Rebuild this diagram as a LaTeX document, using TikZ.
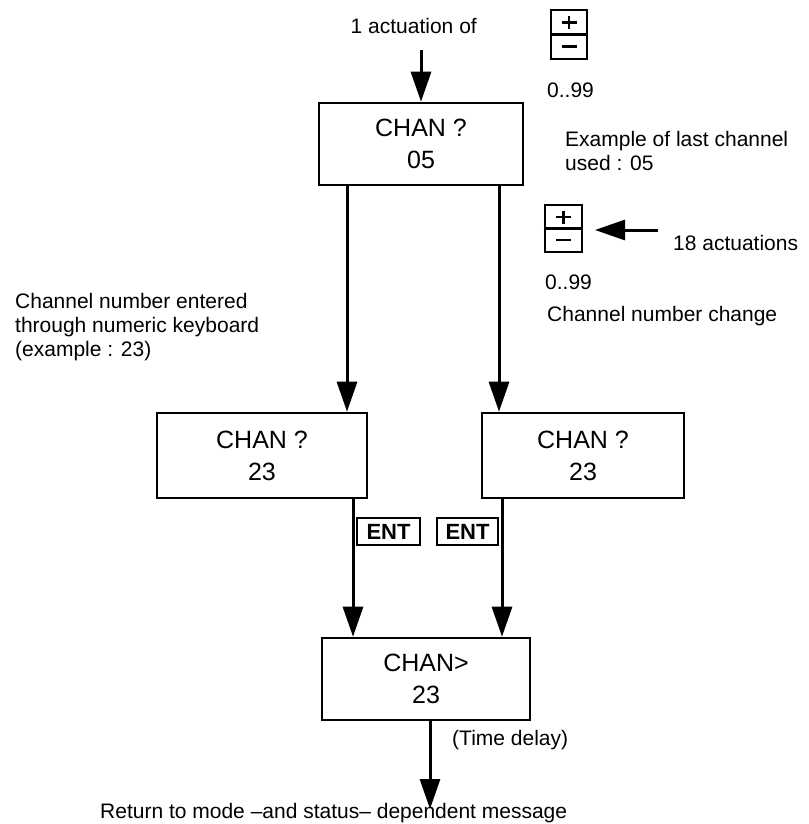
\documentclass[tikz,border=0pt]{standalone}
\usepackage{fontspec}
\setmainfont{Liberation Sans}
\usetikzlibrary{arrows.meta,calc}
\begin{document}
\begin{tikzpicture}[x=1pt,y=-1pt,
  box/.style={draw,line width=2.6pt,minimum height=85pt,inner sep=0pt,align=center,font=\fontsize{25}{32}\selectfont},
  key/.style={draw,line width=2.2pt,minimum height=27pt,inner sep=0pt,font=\fontsize{22}{22}\selectfont\bfseries},
  pm/.style={draw,line width=2.2pt,minimum width=36pt,minimum height=48pt,inner sep=0pt},
  arr/.style={line width=3pt,-{Triangle[width=20pt,length=30pt]}},
  lbl/.style={font=\fontsize{21}{24}\selectfont,inner sep=0pt,align=left},
  sym/.style={line width=2.6pt}
]
\useasboundingbox (0,0) rectangle (808,824);

% boxes
\node[box,minimum width=204pt,minimum height=82pt] (top) at (421,144) {CHAN ?\\05};
\node[box,minimum width=210pt] (ml) at (262,455.5) {CHAN ?\\23};
\node[box,minimum width=202pt] (mr) at (583,455.5) {CHAN ?\\23};
\node[box,minimum width=208pt,minimum height=82pt] (bot) at (426,679) {CHAN>\\23};

% keys
\node[key,minimum width=63pt] (e1) at (388.5,531.5) {ENT};
\node[key,minimum width=61pt] (e2) at (467.5,531.5) {ENT};

% +/- boxes
\node[pm,minimum height=49pt] (pm1) at (569,34.5) {};
\draw[line width=2.2pt] (pm1.west) -- (pm1.east);
\draw[sym] ($(pm1.center)+(-7.5,-12)$) -- ++(15,0);
\draw[sym] ($(pm1.center)+(0,-18.5)$) -- ++(0,13);
\draw[sym] ($(pm1.center)+(-7.5,12)$) -- ++(15,0);

\node[pm,minimum width=37pt,minimum height=47pt] (pm2) at (563.5,228.5) {};
\draw[line width=2.2pt] (pm2.west) -- (pm2.east);
\draw[sym] ($(pm2.center)+(-7.5,-11.5)$) -- ++(15,0);
\draw[sym] ($(pm2.center)+(0,-18)$) -- ++(0,13);
\draw[sym] ($(pm2.center)+(-7.5,11.5)$) -- ++(15,0);

% labels
\node[lbl,anchor=east] (l1) at (477,26) {1 actuation of};
\node[lbl,anchor=west] (r1) at (547,90) {0..99};
\node[lbl,anchor=west] (ex) at (565,151) {Example of last channel\\used : 05};
\node[lbl,anchor=west] (l18) at (673,243) {18 actuations};
\node[lbl,anchor=west] (r2) at (545,282) {0..99};
\node[lbl,anchor=west] (cc) at (547,316) {Channel number change};
\node[lbl,anchor=west] (ce) at (15,327) {Channel number entered\\through numeric keyboard\\(example : 23)};
\node[lbl,anchor=west] (td) at (452,740) {(Time delay)};
\node[lbl,anchor=base west] (ret) at (100,818) {Return to mode {–}and status{–} dependent message};

% coordinates
\coordinate (tin) at (421,50);
\coordinate (xl) at (347,0);
\coordinate (xr) at (499,0);
\coordinate (xl2) at (353,0);
\coordinate (xr2) at (502,0);
\coordinate (rtip) at (430,809);
\coordinate (a18) at (658,230);
\coordinate (t18) at (595,230);

% connectors
\draw[arr] (tin) -- (tin |- top.north);
\draw[arr] (top.south -| xl) -- (ml.north -| xl);
\draw[arr] (top.south -| xr) -- (mr.north -| xr);
\draw[arr] (ml.south -| xl2) -- (bot.north -| xl2);
\draw[arr] (mr.south -| xr2) -- (bot.north -| xr2);
\draw[arr] (bot.south -| rtip) -- (rtip);
\draw[arr] (a18) -- (t18);
\end{tikzpicture}
\end{document}
